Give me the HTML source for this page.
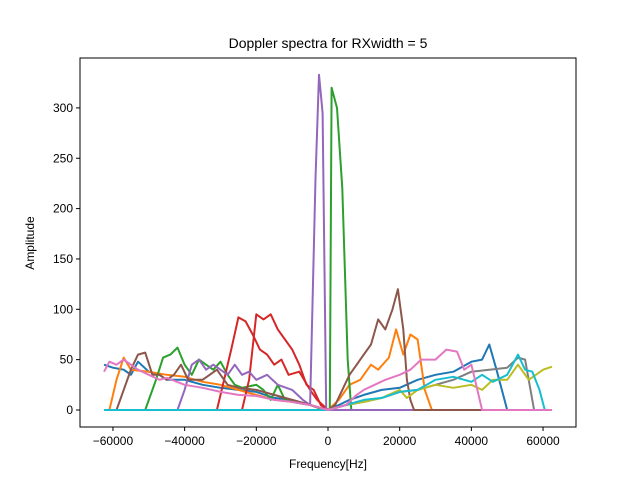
<!DOCTYPE html>
<html><head><meta charset="utf-8"><style>
body{margin:0;background:#fff;}
svg text{font-family:"Liberation Sans","DejaVu Sans",sans-serif;fill:#000;}
</style></head><body>
<svg id="chart" width="640" height="480" xmlns="http://www.w3.org/2000/svg">
<rect x="0" y="0" width="640" height="480" fill="#fff"/>
<text x="328" y="48" font-size="14" text-anchor="middle">Doppler spectra for RXwidth = 5</text>
<text x="328" y="468" font-size="12" text-anchor="middle">Frequency[Hz]</text>
<text x="34" y="243" font-size="12" text-anchor="middle" transform="rotate(-90 34 243)">Amplitude</text>
<g id="marks"></g>
<g id="axes"></g>
<rect x="80" y="58" width="496" height="369" fill="none" stroke="#000" stroke-width="1"/>
</svg>
<script>
const xTicks=[-60000,-40000,-20000,0,20000,40000,60000];
const yTicks=[0,50,100,150,200,250,300];
const seriesNames=["s0","s1","s2","s3","s3b","s4","s5","s7","s8","s9","s6"];
const seriesColors=["#1f77b4","#ff7f0e","#2ca02c","#d62728","#d62728","#9467bd","#8c564b","#7f7f7f","#bcbd22","#17becf","#e377c2"];
const f0=[-62.5,-60,-57,-55,-53,-50,-47,-45,-40,-35,-30,-25,-20,-15,-10,-5,0,3,6,10,15,20,25,30,35,40,43,45,47,50,62.5];
const a0=[45,42,40,35,48,38,35,30,30,25,22,20,18,12,10,5,0,5,10,15,20,22,30,35,38,48,50,65,40,0,0];
const f1=[-62.5,-61,-59,-57,-55,-50,-45,-40,-35,-30,-25,-20,-15,-10,-5,0,3,6,9,12,14,17,19,21,23,25,27,29,62.5];
const a1=[0,0,30,52,40,38,35,33,28,25,20,15,10,8,5,0,10,25,30,45,40,52,80,55,75,70,20,0,0];
const f2=[-62.5,-51,-48,-46,-44,-42,-40,-38,-36,-34,-32,-30,-28,-26,-24,-20,-18,-16,-14,-12,-10,-5,-1,0.5,1,2.5,4,5.5,6.5,62.5];
const a2=[0,0,30,52,55,62,45,35,50,45,40,48,35,25,22,25,20,10,25,10,8,5,0,0,320,300,220,50,0,0];
const f3=[-62.5,-31,-29,-27,-25,-23,-21,-19,-17,-15,-13,-11,-8,-5,-3,0,62.5];
const a3=[0,0,30,60,92,88,75,60,55,45,50,35,38,20,10,0,0];
const f3b=[-62.5,-24,-22,-20,-18,-16,-14,-12,-10,-8,-6,-4,-2,0];
const a3b=[0,0,30,95,90,95,80,70,60,45,25,20,5,0];
const f4=[-62.5,-42,-40,-38,-36,-34,-32,-30,-28,-26,-24,-22,-20,-17,-14,-10,-7,-5,-3.5,-2.5,-1.5,-0.5,62.5];
const a4=[0,0,20,45,50,40,45,40,35,45,35,38,30,35,25,20,10,5,230,333,295,0,0];
const f5=[-62.5,-59,-57,-55,-53,-51,-49,-47,-45,-43,-41,-39,-35,-31,-28,-25,-20,-15,-10,-5,0,2,4,6,8,10,12,14,16,18,19.5,21,22,23,24,62.5];
const a5=[0,0,20,40,55,57,35,35,30,35,45,30,30,40,25,22,20,15,10,5,0,5,20,35,45,55,65,90,80,100,120,80,30,10,0,0];
const f6=[-62.5,-61,-59,-57,-55,-53,-50,-47,-45,-40,-35,-30,-25,-20,-15,-10,-5,0,5,8,10,13,16,20,23,26,30,33,36,38,40,41,43,62.5];
const a6=[38,48,45,50,45,40,35,30,32,25,22,18,15,14,10,8,5,0,5,15,20,25,30,35,40,50,50,60,58,40,45,30,0,0];
const f7=[-62.5,0,5,10,15,20,25,30,35,40,45,50,53,55,56,57.5,62.5];
const a7=[0,0,5,8,12,18,20,25,30,38,40,42,52,50,30,0,0];
const f8=[-62.5,0,5,10,15,20,22,25,30,35,40,43,46,50,53,56,58,60,62.5];
const a8=[0,0,5,8,12,20,12,20,25,22,25,20,30,30,45,30,35,40,43];
const f9=[-62.5,0,5,10,15,20,25,30,35,40,43,46,50,53,55,57,59,60.5,62.5];
const a9=[0,0,5,10,12,18,20,30,33,28,35,28,35,55,40,38,20,0,0];
const freqs=[f0,f1,f2,f3,f3b,f4,f5,f7,f8,f9,f6];
const amps=[a0,a1,a2,a3,a3b,a4,a5,a7,a8,a9,a6];

const NS="http://www.w3.org/2000/svg";
function xScale(hz){return 328+hz/279;}
function yScale(v){return 410-v*1.007;}
const marks=document.getElementById('marks');
const axes=document.getElementById('axes');
for(let s=0;s<freqs.length;s++){
  const pts=freqs[s].map((f,i)=>xScale(f*1000).toFixed(1)+","+yScale(amps[s][i]).toFixed(1)).join(" ");
  const pl=document.createElementNS(NS,'polyline');
  pl.setAttribute('points',pts);
  pl.setAttribute('fill','none');
  pl.setAttribute('stroke',seriesColors[s]);
  pl.setAttribute('stroke-width','2');
  pl.setAttribute('stroke-linejoin','round');
  
  
  marks.appendChild(pl);
}
xTicks.forEach(t=>{
  const x=xScale(t);
  const l=document.createElementNS(NS,'line');
  l.setAttribute('x1',x);l.setAttribute('x2',x);l.setAttribute('y1',427);l.setAttribute('y2',431);
  l.setAttribute('stroke','#000');
  
  
  axes.appendChild(l);
  const tx=document.createElementNS(NS,'text');
  tx.setAttribute('x',x);tx.setAttribute('y',445);tx.setAttribute('font-size','12');tx.setAttribute('text-anchor','middle');
  tx.textContent=(t<0?'\u2212'+(-t):String(t));
  
  
  axes.appendChild(tx);
});
yTicks.forEach(t=>{
  const y=yScale(t);
  const l=document.createElementNS(NS,'line');
  l.setAttribute('x1',76);l.setAttribute('x2',80);l.setAttribute('y1',y);l.setAttribute('y2',y);
  l.setAttribute('stroke','#000');
  
  
  axes.appendChild(l);
  const tx=document.createElementNS(NS,'text');
  tx.setAttribute('x',73);tx.setAttribute('y',y+4);tx.setAttribute('font-size','12');tx.setAttribute('text-anchor','end');
  tx.textContent=String(t);
  
  
  axes.appendChild(tx);
});
</script>
</body></html>
